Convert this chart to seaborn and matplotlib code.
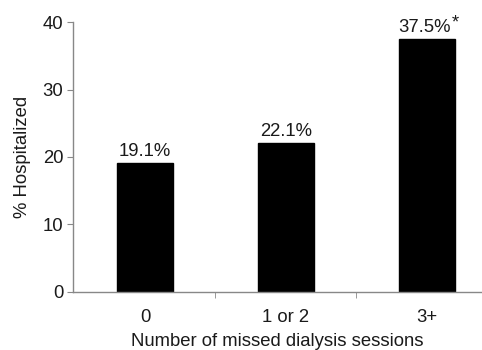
import matplotlib
matplotlib.use("Agg")
import matplotlib.pyplot as plt
import seaborn as sns
import pandas as pd
from matplotlib.ticker import FixedLocator

categories = ["0", "1 or 2", "3+"]
values = [19.1, 22.1, 37.5]
labels = ["19.1%", "22.1%", "37.5%"]
marks = ["", "", "*"]

sns.set_style("white")
plt.rcParams['font.family'] = ['Liberation Sans', 'DejaVu Sans']

FS = 13.3
TC = "#1a1a1a"
df = pd.DataFrame({"cat": categories, "val": values})
fig = plt.figure(figsize=(4.82, 3.5), dpi=100)
ax = fig.add_axes([0.1515, 0.166, 0.8485, 0.771])
sns.barplot(data=df, x="cat", y="val", color="black", edgecolor="black",
            width=0.4, ax=ax, saturation=1)
for p, lab, m in zip(ax.patches, labels, marks):
    x = p.get_x() + p.get_width() / 2
    h = p.get_height()
    t = ax.annotate(lab, (x, h), xytext=(-2 if m else 0, 2), textcoords="offset points",
                    ha="center", va="bottom", fontsize=FS, color=TC)
    if m:
        ax.annotate(m, xy=(1, 1), xycoords=t, xytext=(1, -9), textcoords="offset points",
                    ha="left", va="bottom", fontsize=FS, color=TC)

ax.set_ylim(0, 40)
ax.set_xlim(-0.51, 2.39)
ax.set_yticks([0, 10, 20, 30, 40])
ax.set_xlabel("Number of missed dialysis sessions", fontsize=FS, color=TC, labelpad=5)
ax.set_ylabel("% Hospitalized", fontsize=FS, color=TC, labelpad=8)
for s in ["top", "right"]:
    ax.spines[s].set_visible(False)
for s in ["left", "bottom"]:
    ax.spines[s].set_color("#888888")
    ax.spines[s].set_linewidth(1.0)
ax.xaxis.set_minor_locator(FixedLocator([0.5, 1.5]))
ax.tick_params(axis="x", which="major", length=0, pad=12, labelsize=FS, labelcolor=TC)
ax.tick_params(axis="x", which="minor", length=4, direction="out", color="#888888", bottom=True)
ax.tick_params(axis="y", length=4, direction="out", color="#888888", left=True, labelsize=FS, labelcolor=TC, pad=3)
fig.savefig("out.png", dpi=100)
